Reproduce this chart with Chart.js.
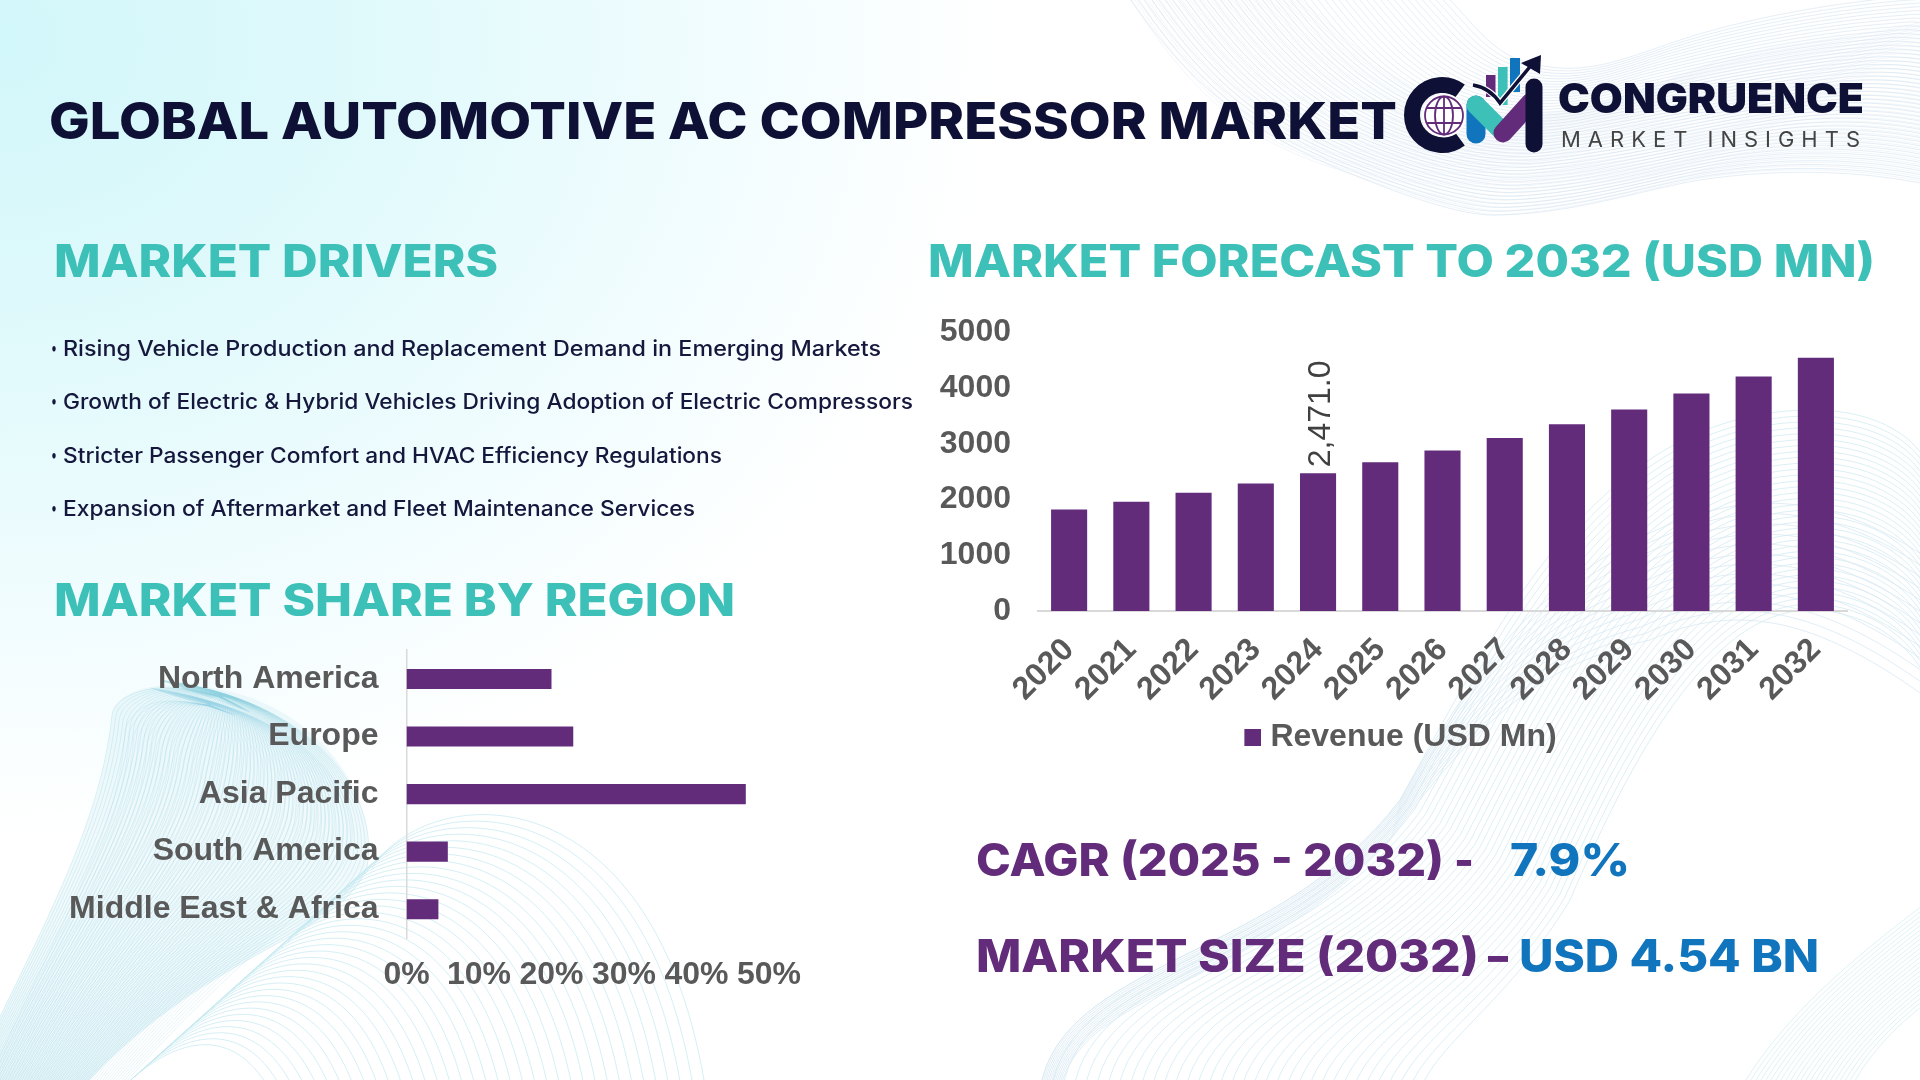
<!DOCTYPE html>
<html>
<head>
<meta charset="utf-8">
<script src="https://cdn.jsdelivr.net/npm/chart.js@4"></script>
<style>
html,body{margin:0;padding:0;background:#fff}
#page{position:relative;width:1920px;height:1080px;overflow:hidden;background:
radial-gradient(ellipse 1000px 800px at 0px 40px,#d2f7fa 0%,#dff9fb 35%,#effcfe 68%,rgba(255,255,255,0) 100%),#fff}
svg.layer{position:absolute;left:0;top:0}
.box{position:absolute}
.t{position:absolute;white-space:pre;line-height:1;transform-origin:0 50%}
</style>
</head>
<body>
<div id="page">
<svg id="mesh" class="layer" width="1920" height="1080" viewBox="0 0 1920 1080"></svg>
<div class="box" style="left:920px;top:294px;width:960px;height:469px"><canvas id="forecast" width="960" height="469"></canvas></div>
<div class="box" style="left:40px;top:611px;width:800px;height:392px"><canvas id="share" width="800" height="392"></canvas></div>
<svg class="layer" width="1920" height="1080" viewBox="0 0 1920 1080">
  <path d="M1460 91 A30 30 0 1 0 1460 139" fill="none" stroke="#0f1035" stroke-width="16"/>
  <circle cx="1444" cy="115.5" r="22" fill="#fff"/>
  <g fill="none" stroke="#632c7b" stroke-width="1.8">
    <circle cx="1444" cy="115.5" r="19"/>
    <ellipse cx="1444" cy="115.5" rx="9" ry="19"/>
    <path d="M1444 96.5V134.5M1426 108H1462M1426 123H1462"/>
  </g>
  <rect x="1486" y="75" width="9.5" height="22" fill="#632c7b"/>
  <rect x="1498" y="67" width="9.6" height="38" fill="#3cc0b8"/>
  <rect x="1510" y="58" width="10" height="34" fill="#1075bd"/>
  <path d="M1476 105V134" stroke="#1075bd" stroke-width="19" stroke-linecap="round" fill="none"/>
  <path d="M1476 105L1502 131" stroke="#3cc0b8" stroke-width="19" stroke-linecap="round" fill="none"/>
  <path d="M1503 133L1530 103" stroke="#632c7b" stroke-width="19" stroke-linecap="round" fill="none"/>
  <path d="M1534 87V144" stroke="#0f1035" stroke-width="17" stroke-linecap="round" fill="none"/>
  <path d="M1473 85Q1490 88 1500 103L1533 63" stroke="#fff" stroke-width="6" fill="none"/>
  <path d="M1473 85Q1490 88 1500 103L1533 63" stroke="#0f1035" stroke-width="3.5" fill="none"/>
  <path d="M1541 55L1521 63L1540 74Z" fill="#0f1035"/>
</svg>
<div id="texts"></div>
</div>
<script>
const years = ['2020','2021','2022','2023','2024','2025','2026','2027','2028','2029','2030','2031','2032'];
const revenue = [1820,1960,2120,2285,2471,2666,2877,3104,3349,3614,3899,4207,4540];
const seriesName = 'Revenue (USD Mn)';
const labelledYear = '2024';
const regions = ['North America','Europe','Asia Pacific','South America','Middle East & Africa'];
const regionShare = [20,23,46.8,5.7,4.4];
const drivers = [
 'Rising Vehicle Production and Replacement Demand in Emerging Markets',
 'Growth of Electric & Hybrid Vehicles Driving Adoption of Electric Compressors',
 'Stricter Passenger Comfort and HVAC Efficiency Regulations',
 'Expansion of Aftermarket and Fleet Maintenance Services'
];
const INK='#0f1035', TEAL='#3cc0b8', PURPLE='#632c7b', BLUE='#1075bd', GREY='#595959';
const SANS="Inter, 'Noto Sans', sans-serif";
const ARIAL="'Liberation Sans', Arial, sans-serif";

// text, x start, x end, cap centre y, size, weight, colour, letter spacing
const texts = [
 ['GLOBAL AUTOMOTIVE AC COMPRESSOR MARKET',49,1397,120.5,51,800,INK,0],
 ['MARKET DRIVERS',54,498,260.5,45,800,TEAL,0],
 ['MARKET FORECAST TO 2032 (USD MN)',928,1875,260.5,45,800,TEAL,0],
 ['MARKET SHARE BY REGION',54,735,599.5,45,800,TEAL,0],
 ['•',50.5,56.5,348,18,500,'#15173c',0],
 ['•',50.5,56.5,401,18,500,'#15173c',0],
 ['•',50.5,56.5,455,18,500,'#15173c',0],
 ['•',50.5,56.5,508,18,500,'#15173c',0],
 [drivers[0],63,881,348,21,500,'#15173c',0],
 [drivers[1],63,913,401,21,500,'#15173c',0],
 [drivers[2],63,722,455,21,500,'#15173c',0],
 [drivers[3],63,695,508,21,500,'#15173c',0],
 ['CAGR (2025 - 2032)',976,1444,859.5,45,800,PURPLE,0],
 ['-',1454,1474,859.5,45,800,PURPLE,0],
 ['7.9%',1510,1630,859.5,45,800,BLUE,0],
 ['MARKET SIZE (2032)',976,1479,955.5,45,800,PURPLE,0],
 ['–',1488,1508,955.5,45,800,PURPLE,0],
 ['USD 4.54 BN',1519,1819,955.5,45,800,BLUE,0],
 ['CONGRUENCE',1558,1864,98,41,900,INK,0],
 ['MARKET INSIGHTS',1561,1860,139,22,400,'#444444',7]
];
const host=document.getElementById('texts');
texts.forEach(([s,x,x2,yc,fs,w,c,ls])=>{
  const d=document.createElement('div');
  d.className='t';d.textContent=s;
  d.style.cssText=`left:${x}px;top:${yc-fs/2}px;font:${w} ${fs}px/1 ${SANS};color:${c};letter-spacing:${ls}px`;
  host.appendChild(d);
  const measured=d.getBoundingClientRect().width-ls;
  d.style.transform=`scaleX(${(x2-x)/measured})`;
});

// decorative wave background: families of curves between two outlines
const mesh=document.getElementById('mesh');
const NS='http://www.w3.org/2000/svg';
function family(A,B,n,color,op,width){
  let d='';
  for(let i=0;i<=n;i++){
    const t=i/n;
    const p=A.map((a,k)=>[a[0]+(B[k][0]-a[0])*t,a[1]+(B[k][1]-a[1])*t]);
    d+='M'+p[0].join(' ');
    for(let k=1;k<p.length;k+=3)d+='C'+p[k].join(' ')+' '+p[k+1].join(' ')+' '+p[k+2].join(' ');
  }
  const e=document.createElementNS(NS,'path');
  e.setAttribute('d',d);e.setAttribute('fill','none');e.setAttribute('stroke',color);
  e.setAttribute('stroke-opacity',op);e.setAttribute('stroke-width',width);
  mesh.appendChild(e);
}
// pale wash under the bottom-left ribbon
{
  const e=document.createElementNS(NS,'path');
  e.setAttribute('d','M-40 1100C40 930 100 830 112 715C115 690 160 680 204 687C320 700 380 800 367 867C340 940 200 950 71 1100Z');
  e.setAttribute('fill','#b5e0ea');e.setAttribute('fill-opacity','.2');
  mesh.appendChild(e);
}
// top right
family([[1131,0],[1180,70],[1230,120],[1330,165],[1400,195],[1460,215],[1492,215],[1570,215],[1640,190],[1700,180],[1780,168],[1860,170],[1930,185]],
       [[1450,0],[1470,20],[1490,50],[1520,60],[1580,80],[1620,60],[1680,40],[1740,20],[1840,0],[1930,-5],[1930,-5],[1930,-5],[1930,-5]],
       46,'#cfe0ee',.55,1);
family([[1131,0],[1190,90],[1240,140],[1340,170],[1410,195],[1470,215],[1500,215],[1580,210],[1640,190],[1700,178],[1780,165],[1860,168],[1930,183]],
       [[1300,0],[1340,30],[1390,90],[1470,110],[1560,130],[1640,90],[1720,60],[1790,40],[1860,40],[1930,20],[1930,20],[1930,20],[1930,20]],
       40,'#cfe0ee',.35,.8);
// bottom left ribbon
family([[-40,1100],[40,930],[100,830],[112,715],[115,690],[180,670],[250,712]],
       [[71,1100],[200,950],[340,940],[367,867],[380,800],[320,700],[160,680]],
       70,'#8fcfe0',.4,.7);
family([[-20,1100],[70,900],[120,830],[125,730],[135,700],[170,690],[235,715]],
       [[110,1100],[240,950],[330,900],[350,850],[365,790],[300,710],[150,688]],
       50,'#8fcfe0',.3,.7);
// bottom left dome
family([[372,868],[430,780],[650,770],[704,1080]],
       [[120,1090],[170,1040],[230,1020],[270,1090]],
       36,'#bfe6ee',.65,1);
// bottom right dome
family([[1040,1090],[1060,960],[1280,960],[1400,800],[1500,620],[1600,410],[1813,410],[1880,410],[1920,440],[1930,470]],
       [[1420,1090],[1440,1040],[1510,1000],[1570,900],[1630,760],[1710,610],[1810,610],[1870,610],[1920,650],[1930,690]],
       34,'#cce8f1',.7,1);
family([[1040,1090],[1060,960],[1280,960],[1400,800],[1490,640],[1540,600],[1600,560],[1700,500],[1800,470],[1930,560]],
       [[1060,1090],[1080,990],[1250,990],[1390,840],[1490,700],[1560,660],[1650,640],[1740,600],[1820,620],[1930,700]],
       12,'#d9e9f3',.8,1);
family([[1930,900],[1850,960],[1780,1020],[1740,1090]],
       [[1930,1000],[1890,1030],[1865,1060],[1850,1090]],
       22,'#bfe6ee',.6,.9);

// charts
Chart.defaults.font.family=ARIAL;
const tickFont={family:ARIAL,size:32,weight:'bold'};
const legendSwatch=document.createElement('canvas');
legendSwatch.width=38;legendSwatch.height=17;
{const c=legendSwatch.getContext('2d');c.fillStyle=PURPLE;c.fillRect(21,0,17,17);}
const valueLabel={
  id:'valueLabel',
  afterDatasetsDraw(chart){
    const i=years.indexOf(labelledYear);
    const el=chart.getDatasetMeta(0).data[i];
    const ctx=chart.ctx;
    ctx.save();
    ctx.translate(el.x+3.5,el.y-6);
    ctx.rotate(-Math.PI/2);
    ctx.font=`32px ${ARIAL}`;
    ctx.fillStyle='#404040';
    ctx.textAlign='left';ctx.textBaseline='middle';
    ctx.fillText(revenue[i].toLocaleString('en-US',{minimumFractionDigits:1}),0,0);
    ctx.restore();
  }
};
new Chart(document.getElementById('forecast'),{
  type:'bar',
  data:{labels:years,datasets:[{label:seriesName,data:revenue,backgroundColor:PURPLE,
    barPercentage:.58,categoryPercentage:1}]},
  plugins:[valueLabel],
  options:{
    responsive:false,animation:false,
    layout:{padding:{top:14,right:33,left:20,bottom:0}},
    plugins:{tooltip:{enabled:false},
      legend:{position:'bottom',labels:{font:tickFont,color:GREY,usePointStyle:true,pointStyle:legendSwatch,pointStyleWidth:24,padding:10}}},
    scales:{
      x:{grid:{display:false},border:{color:'#d9d9d9',width:2},
        afterFit(s){s.height=100;},
        ticks:{font:tickFont,color:GREY,minRotation:45,maxRotation:45,autoSkip:false,padding:12}},
      y:{min:0,max:5000,grid:{display:false},border:{display:false},
        afterFit(s){s.width=98;},
        ticks:{font:tickFont,color:GREY,stepSize:1000,padding:19,callback:v=>String(v)}}
    }
  }
});
new Chart(document.getElementById('share'),{
  type:'bar',
  data:{labels:regions,datasets:[{label:'Share',data:regionShare,backgroundColor:PURPLE,
    barPercentage:.35,categoryPercentage:1}]},
  options:{
    indexAxis:'y',responsive:false,animation:false,
    layout:{padding:{top:9,right:71,left:0,bottom:0}},
    plugins:{legend:{display:false},tooltip:{enabled:false}},
    scales:{
      y:{grid:{display:false},border:{color:'#d9d9d9',width:1.5},
        afterFit(s){s.width=366.5;},
        ticks:{font:tickFont,color:GREY,padding:20,autoSkip:false}},
      x:{min:0,max:50,grid:{display:false},border:{display:false},
        afterFit(s){s.height=65;},
        ticks:{font:tickFont,color:GREY,stepSize:10,padding:10,maxRotation:0,autoSkip:false,callback:v=>v+'%'}}
    }
  }
});
</script>
</body>
</html>
